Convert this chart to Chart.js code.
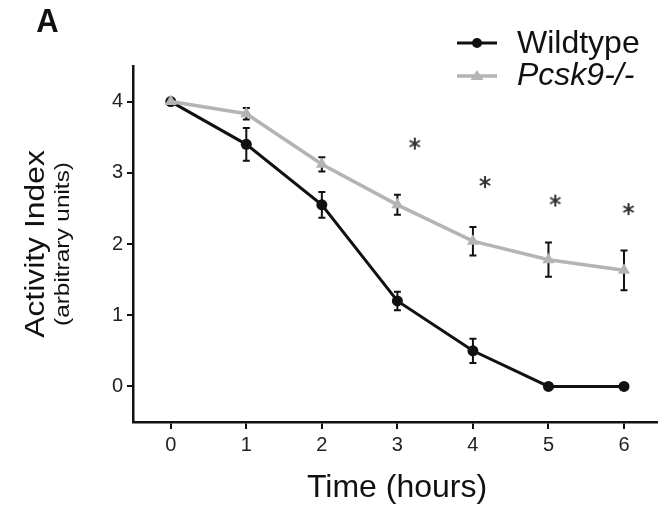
<!DOCTYPE html>
<html>
<head>
<meta charset="utf-8">
<script src="https://cdn.jsdelivr.net/npm/chart.js@4.4.1/dist/chart.umd.min.js"></script>
<style>
  html, body { margin: 0; padding: 0; background: #fff; }
  #wrap { position: relative; width: 658px; height: 507px; }
</style>
</head>
<body>
<div id="wrap"><canvas id="activityChart" width="658" height="507"></canvas></div>
<script>
// time points (hours) and tick labels
const hours = [0, 1, 2, 3, 4, 5, 6];
const xTicks = [0, 1, 2, 3, 4, 5, 6];
const yTicks = [0, 1, 2, 3, 4];

// activity index, mean and SEM
const wildtype = [4, 3.4, 2.55, 1.2, 0.5, 0, 0];
const wildtypeErr = [0, 0.23, 0.18, 0.13, 0.17, 0, 0];
const pcsk9 = [4, 3.83, 3.12, 2.55, 2.04, 1.78, 1.63];
const pcsk9Err = [0, 0.08, 0.1, 0.14, 0.2, 0.24, 0.28];

// significance marks
const starX = [3.23, 4.16, 5.09, 6.06];
const starY = [3.41, 2.87, 2.61, 2.49];

const FONT = "'Liberation Sans', Arial, sans-serif";
const GREY = "#b4b4b4";

const toPoints = (xs, ys) => xs.map((x, i) => ({ x: x, y: ys[i] }));

// six-armed asterisk used as a point style
function makeAsterisk(size, color) {
    const c = document.createElement("canvas");
    c.width = size;
    c.height = size;
    const g = c.getContext("2d");
    const r = size / 2 - 1;
    g.translate(size / 2, size / 2);
    g.strokeStyle = color;
    g.lineWidth = 2;
    g.lineCap = "butt";
    for (let k = 0; k < 3; k++) {
        const a = Math.PI / 2 + (k * Math.PI) / 3;
        g.beginPath();
        g.moveTo(Math.cos(a) * r, Math.sin(a) * r);
        g.lineTo(-Math.cos(a) * r, -Math.sin(a) * r);
        g.stroke();
    }
    return c;
}

// error bars, drawn under the markers
const errorBars = {
    id: "errorBars",
    beforeDatasetsDraw(chart) {
        const { ctx, scales } = chart;
        const sets = [[wildtype, wildtypeErr], [pcsk9, pcsk9Err]];
        ctx.save();
        ctx.strokeStyle = "#111";
        ctx.lineWidth = 2;
        sets.forEach(([vals, errs]) => {
            vals.forEach((v, i) => {
                if (!errs[i]) return;
                const x = scales.x.getPixelForValue(hours[i]);
                const yTop = scales.y.getPixelForValue(v + errs[i]);
                const yBot = scales.y.getPixelForValue(v - errs[i]);
                ctx.beginPath();
                ctx.moveTo(x, yTop);
                ctx.lineTo(x, yBot);
                ctx.moveTo(x - 3.5, yTop);
                ctx.lineTo(x + 3.5, yTop);
                ctx.moveTo(x - 3.5, yBot);
                ctx.lineTo(x + 3.5, yBot);
                ctx.stroke();
            });
        });
        ctx.restore();
    },
};

// panel letter, axis titles and legend
const decorations = {
    id: "decorations",
    afterDraw(chart) {
        const { ctx } = chart;
        ctx.save();
        ctx.fillStyle = "#111";

        ctx.font = "bold 31px " + FONT;
        ctx.textAlign = "center";
        ctx.textBaseline = "alphabetic";
        ctx.save();
        ctx.translate(47.5, 32);
        ctx.scale(1, 1.1);
        ctx.fillText("A", 0, 0);
        ctx.restore();

        // y axis title (two lines)
        ctx.save();
        ctx.translate(37, 244);
        ctx.rotate(-Math.PI / 2);
        ctx.scale(1.18, 1);
        ctx.textBaseline = "middle";
        ctx.font = "27px " + FONT;
        ctx.fillText("Activity Index", 0, 0);
        ctx.restore();

        ctx.save();
        ctx.translate(64, 244);
        ctx.rotate(-Math.PI / 2);
        ctx.scale(1.25, 1);
        ctx.textBaseline = "middle";
        ctx.font = "19.5px " + FONT;
        ctx.fillText("(arbitrary units)", 0, 0);
        ctx.restore();

        // x axis title
        ctx.font = "32px " + FONT;
        ctx.textAlign = "center";
        ctx.textBaseline = "alphabetic";
        ctx.fillText("Time (hours)", 397, 497);

        // legend
        ctx.lineWidth = 3;
        ctx.strokeStyle = "#111";
        ctx.beginPath();
        ctx.moveTo(457, 43);
        ctx.lineTo(497, 43);
        ctx.stroke();
        ctx.beginPath();
        ctx.arc(477, 43, 5, 0, Math.PI * 2);
        ctx.fill();

        ctx.strokeStyle = GREY;
        ctx.lineWidth = 3.5;
        ctx.beginPath();
        ctx.moveTo(457, 76);
        ctx.lineTo(497, 76);
        ctx.stroke();
        ctx.fillStyle = GREY;
        ctx.beginPath();
        ctx.moveTo(477, 70);
        ctx.lineTo(483.5, 80);
        ctx.lineTo(470.5, 80);
        ctx.closePath();
        ctx.fill();

        ctx.fillStyle = "#111";
        ctx.textAlign = "left";
        ctx.textBaseline = "middle";
        ctx.font = "32px " + FONT;
        ctx.fillText("Wildtype", 517, 44);
        ctx.font = "italic 32px " + FONT;
        ctx.fillText("Pcsk9-/-", 517, 76);
        ctx.restore();
    },
};

const axisLine = { display: true, color: "#111", width: 2.5 };

new Chart(document.getElementById("activityChart").getContext("2d"), {
    type: "line",
    data: {
        datasets: [
            {
                label: "significance",
                data: toPoints(starX, starY),
                showLine: false,
                pointStyle: makeAsterisk(14, "#333"),
                order: -1,
            },
            {
                label: "Pcsk9-/-",
                data: toPoints(hours, pcsk9),
                borderColor: GREY,
                backgroundColor: GREY,
                borderWidth: 3.5,
                pointStyle: "triangle",
                pointRadius: 7,
                pointBorderWidth: 0,
                order: 0,
            },
            {
                label: "Wildtype",
                data: toPoints(hours, wildtype),
                borderColor: "#111",
                backgroundColor: "#111",
                borderWidth: 3,
                pointStyle: "circle",
                pointRadius: 5.5,
                pointBorderWidth: 0,
                order: 1,
            },
        ],
    },
    options: {
        responsive: false,
        animation: false,
        devicePixelRatio: 1,
        layout: { autoPadding: false, padding: { top: 66, right: 0, left: 0, bottom: 0 } },
        scales: {
            x: {
                type: "linear",
                min: -0.5,
                max: 6.45,
                afterBuildTicks: (s) => { s.ticks = xTicks.map((v) => ({ value: v })); },
                afterFit: (s) => { s.height = 85; },
                border: axisLine,
                grid: { drawOnChartArea: false, drawTicks: true, tickLength: 7, color: "#111", lineWidth: 2 },
                ticks: { color: "#222", font: { family: FONT, size: 20 }, padding: 4, maxRotation: 0 },
            },
            y: {
                min: -0.5,
                max: 4.5,
                afterBuildTicks: (s) => { s.ticks = yTicks.map((v) => ({ value: v })); },
                afterFit: (s) => { s.width = 133; },
                border: axisLine,
                grid: { drawOnChartArea: false, drawTicks: true, tickLength: 6, color: "#111", lineWidth: 2 },
                ticks: { color: "#222", font: { family: FONT, size: 20 }, padding: 4 },
            },
        },
        plugins: {
            legend: { display: false },
            tooltip: { enabled: false },
        },
    },
    plugins: [errorBars, decorations],
});
</script>
</body>
</html>
